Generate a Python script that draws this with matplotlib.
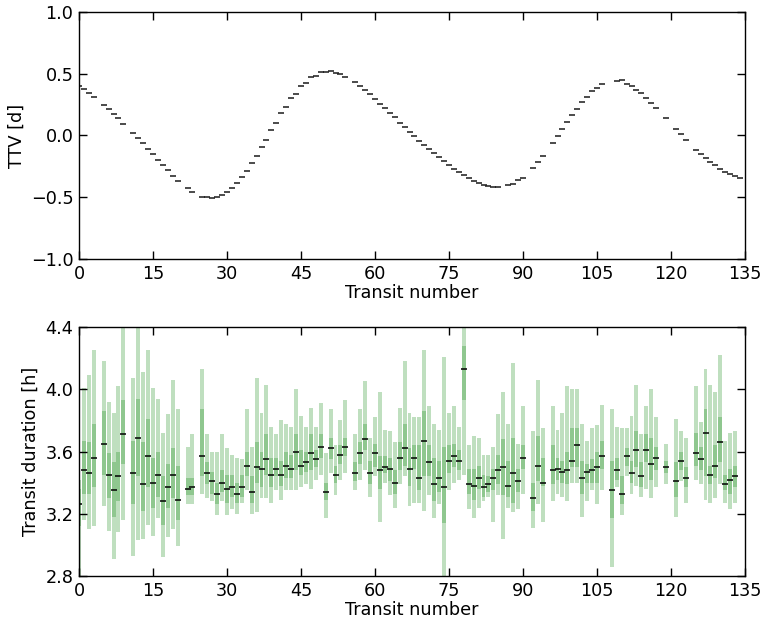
import matplotlib
matplotlib.use("Agg")
import matplotlib.pyplot as plt
import numpy as np

# ---------------- Top panel: TTV ----------------
ttv_n = [0, 1, 2, 3, 5, 6, 7, 8, 9, 11, 12, 13, 14, 15, 16, 17, 18, 19, 20, 22, 23,
         25, 26, 27, 28, 29, 30, 31, 32, 33, 34, 35, 36, 37, 38, 39, 40, 41, 42, 43, 44,
         45, 46, 47, 48, 49, 50, 51, 52, 53, 54, 56, 57, 58, 59, 60, 61, 62, 63, 64, 65,
         66, 67, 68, 69, 70, 71, 72, 73, 74, 75, 76, 77, 78, 79, 80, 81, 82, 83, 84, 85,
         87, 88, 89, 90, 92, 93, 94, 96, 97, 98, 99, 100, 101, 102, 103, 104, 105, 106,
         109, 110, 111, 112, 113, 114, 115, 116, 117, 119, 121, 122, 123, 125, 126, 127,
         128, 129, 130, 131, 132, 133, 134]
ttv_val = [0.400, 0.375, 0.345, 0.312, 0.250, 0.215, 0.177, 0.139, 0.096, 0.024, -0.017,
           -0.065, -0.109, -0.152, -0.195, -0.238, -0.281, -0.325, -0.366, -0.428, -0.460,
           -0.495, -0.500, -0.505, -0.500, -0.485, -0.457, -0.425, -0.384, -0.338, -0.287,
           -0.222, -0.163, -0.093, -0.034, 0.045, 0.101, 0.180, 0.231, 0.300, 0.338,
           0.400, 0.428, 0.472, 0.484, 0.514, 0.512, 0.520, 0.508, 0.497, 0.474,
           0.429, 0.403, 0.365, 0.332, 0.292, 0.257, 0.219, 0.181, 0.146, 0.105,
           0.070, 0.032, -0.003, -0.041, -0.076, -0.108, -0.141, -0.173, -0.206, -0.238,
           -0.268, -0.292, -0.322, -0.343, -0.371, -0.384, -0.400, -0.408, -0.416, -0.416,
           -0.400, -0.389, -0.363, -0.341, -0.262, -0.214, -0.170, -0.060, -0.003, 0.054,
           0.111, 0.167, 0.216, 0.273, 0.308, 0.360, 0.383, 0.416,
           0.440, 0.446, 0.415, 0.404, 0.372, 0.346, 0.305, 0.265, 0.222, 0.138, 0.050,
           0.008, -0.035, -0.116, -0.148, -0.180, -0.213, -0.240, -0.268, -0.295, -0.312,
           -0.329, -0.348]

# ---------------- Bottom panel: transit duration ----------------
dur_n = [0, 1, 2, 3, 5, 6, 7, 8, 9, 11, 12, 13, 14, 15, 16, 17, 18, 19, 20, 22, 23,
         25, 26, 27, 28, 29, 30, 31, 32, 33, 34, 35, 36, 37, 38, 39, 40, 41, 42, 43, 44,
         45, 46, 47, 48, 49, 50, 51, 52, 53, 54, 56, 57, 58, 59, 60, 61, 62, 63, 64, 65,
         66, 67, 68, 69, 70, 71, 72, 73, 74, 75, 76, 77, 78, 79, 80, 81, 82, 83, 84, 85,
         86, 87, 88, 89, 90, 92, 93, 94, 96, 97, 98, 99, 100, 101, 102, 103, 104, 105, 106,
         108, 109, 110, 111, 112, 113, 114, 115, 116, 117, 119, 121, 122, 123, 125, 126,
         127, 128, 129, 130, 131, 132, 133]
dur_med = [3.26, 3.48, 3.46, 3.56, 3.65, 3.45, 3.35, 3.44, 3.71, 3.46, 3.69,
           3.39, 3.57, 3.40, 3.45, 3.28, 3.37, 3.45, 3.29, 3.36, 3.37,
           3.57, 3.46, 3.41, 3.33, 3.40, 3.36, 3.37, 3.33, 3.37, 3.51,
           3.34, 3.50, 3.49, 3.55, 3.45, 3.49, 3.45, 3.51, 3.49, 3.60,
           3.51, 3.53, 3.59, 3.55, 3.63, 3.34, 3.62, 3.45, 3.58, 3.63,
           3.46, 3.59, 3.68, 3.46, 3.59, 3.48, 3.50, 3.49, 3.40, 3.56,
           3.62, 3.49, 3.56, 3.43, 3.67, 3.53, 3.39, 3.43, 3.37, 3.54,
           3.57, 3.54, 4.13, 3.39, 3.38, 3.43, 3.37, 3.39, 3.43, 3.48,
           3.50, 3.38, 3.46, 3.41, 3.56, 3.30, 3.51, 3.40, 3.48, 3.49,
           3.47, 3.48, 3.54, 3.64, 3.43, 3.47, 3.48, 3.50, 3.57,
           3.35, 3.48, 3.33, 3.57, 3.46, 3.61, 3.44, 3.61, 3.52, 3.56,
           3.50, 3.41, 3.54, 3.43, 3.59, 3.55, 3.72, 3.45, 3.51, 3.66,
           3.39, 3.42, 3.44]
dur_dark_lo = [3.12, 3.33, 3.33, 3.37, 3.45, 3.30, 3.18, 3.28, 3.52, 3.26, 3.44,
               3.22, 3.37, 3.24, 3.31, 3.13, 3.24, 3.30, 3.16, 3.32, 3.32,
               3.44, 3.39, 3.33, 3.26, 3.34, 3.27, 3.31, 3.27, 3.31, 3.44,
               3.27, 3.40, 3.37, 3.45, 3.37, 3.44, 3.38, 3.43, 3.43, 3.48,
               3.45, 3.47, 3.48, 3.50, 3.56, 3.29, 3.55, 3.40, 3.52, 3.57,
               3.41, 3.52, 3.61, 3.39, 3.50, 3.36, 3.46, 3.41, 3.33, 3.48,
               3.51, 3.38, 3.49, 3.35, 3.44, 3.44, 3.28, 3.34, 3.14, 3.46,
               3.50, 3.48, 3.93, 3.33, 3.29, 3.36, 3.31, 3.34, 3.35, 3.39,
               3.32, 3.31, 3.27, 3.34, 3.49, 3.22, 3.41, 3.38, 3.39, 3.42,
               3.40, 3.39, 3.50, 3.50, 3.33, 3.40, 3.40, 3.40, 3.49,
               3.17, 3.42, 3.26, 3.51, 3.40, 3.50, 3.37, 3.53, 3.42, 3.48,
               3.46, 3.31, 3.48, 3.37, 3.51, 3.48, 3.44, 3.39, 3.43, 3.53,
               3.35, 3.33, 3.37]
dur_dark_hi = [3.36, 3.67, 3.66, 3.78, 3.86, 3.59, 3.53, 3.60, 3.93, 3.67, 3.94,
               3.66, 3.81, 3.56, 3.60, 3.44, 3.52, 3.62, 3.51, 3.43, 3.43,
               3.87, 3.53, 3.47, 3.40, 3.48, 3.45, 3.45, 3.40, 3.45, 3.60,
               3.44, 3.66, 3.60, 3.71, 3.56, 3.56, 3.54, 3.60, 3.58, 3.71,
               3.61, 3.60, 3.71, 3.61, 3.71, 3.40, 3.69, 3.51, 3.64, 3.69,
               3.53, 3.66, 3.78, 3.54, 3.65, 3.57, 3.57, 3.56, 3.48, 3.66,
               3.78, 3.62, 3.64, 3.64, 3.86, 3.64, 3.56, 3.54, 3.63, 3.64,
               3.65, 3.61, 4.28, 3.49, 3.49, 3.51, 3.45, 3.44, 3.49, 3.58,
               3.68, 3.54, 3.69, 3.49, 3.64, 3.40, 3.70, 3.56, 3.64, 3.56,
               3.54, 3.60, 3.75, 3.75, 3.54, 3.52, 3.55, 3.60, 3.67,
               3.54, 3.56, 3.44, 3.62, 3.54, 3.73, 3.53, 3.71, 3.69, 3.63,
               3.54, 3.53, 3.60, 3.50, 3.72, 3.63, 3.87, 3.51, 3.64, 3.82,
               3.45, 3.49, 3.51]
dur_light_lo = [2.80, 3.16, 3.10, 3.12, 3.25, 3.09, 2.91, 3.08, 3.16, 2.93, 3.03,
                3.04, 3.13, 3.06, 3.17, 2.92, 3.05, 3.10, 2.99, 3.26, 3.26,
                3.33, 3.30, 3.28, 3.19, 3.28, 3.19, 3.23, 3.20, 3.27, 3.35,
                3.20, 3.21, 3.30, 3.30, 3.27, 3.35, 3.29, 3.35, 3.35, 3.35,
                3.37, 3.39, 3.36, 3.42, 3.45, 3.17, 3.46, 3.32, 3.42, 3.46,
                3.35, 3.42, 3.48, 3.31, 3.44, 3.15, 3.40, 3.32, 3.24, 3.39,
                3.44, 3.25, 3.27, 3.27, 3.22, 3.32, 3.17, 3.26, 2.80, 3.35,
                3.40, 3.42, 3.45, 3.23, 3.17, 3.24, 3.28, 3.31, 3.15, 3.32,
                3.04, 3.24, 3.21, 3.23, 3.33, 3.11, 3.26, 3.15, 3.28, 3.33,
                3.31, 3.28, 3.40, 3.40, 3.18, 3.28, 3.35, 3.26, 3.35,
                2.86, 3.37, 3.19, 3.44, 3.33, 3.38, 3.31, 3.36, 3.30, 3.37,
                3.39, 3.18, 3.41, 3.27, 3.42, 3.39, 3.29, 3.27, 3.30, 3.39,
                3.27, 3.23, 3.27]
dur_light_hi = [3.42, 4.01, 4.09, 4.25, 4.18, 3.92, 3.85, 4.02, 4.45, 4.07, 4.45,
                4.11, 4.25, 4.01, 3.94, 3.72, 3.84, 4.06, 3.87, 3.63, 3.71,
                4.13, 3.71, 3.60, 3.60, 3.71, 3.62, 3.58, 3.56, 3.55, 3.87,
                3.63, 4.07, 3.85, 4.03, 3.76, 3.71, 3.80, 3.78, 3.76, 4.00,
                3.83, 3.76, 3.88, 3.76, 3.91, 3.59, 3.87, 3.64, 3.80, 3.93,
                3.71, 3.87, 4.05, 3.69, 3.82, 3.98, 3.74, 3.73, 3.66, 3.88,
                4.18, 3.85, 3.82, 3.82, 4.25, 3.89, 3.78, 3.74, 4.21, 3.85,
                3.89, 3.76, 4.45, 3.64, 3.70, 3.69, 3.58, 3.58, 3.63, 3.84,
                3.98, 3.78, 4.17, 3.65, 3.89, 3.73, 4.06, 3.75, 3.89, 3.74,
                3.85, 4.02, 4.00, 4.00, 3.78, 3.67, 3.75, 3.77, 3.90,
                3.87, 3.76, 3.75, 3.75, 3.83, 4.03, 3.71, 3.89, 4.00, 3.82,
                3.65, 3.81, 3.73, 3.69, 4.02, 3.79, 4.13, 4.03, 3.98, 4.22,
                3.67, 3.72, 3.73]

x_ticks = [0, 15, 30, 45, 60, 75, 90, 105, 120, 135]
ttv_ticks = [-1.0, -0.5, 0.0, 0.5, 1.0]
dur_ticks = [2.8, 3.2, 3.6, 4.0, 4.4]

plt.rcParams['font.family'] = ['DejaVu Sans']
plt.rcParams['font.size'] = 12.7

fig = plt.figure(figsize=(7.64, 6.23), dpi=100)
ax1 = fig.add_axes([0.1034, 0.5843, 0.8717, 0.3965])
ax2 = fig.add_axes([0.1034, 0.0754, 0.8717, 0.3997])

green = '#008000'

# top
ax1.plot(ttv_n, ttv_val, linestyle='none', marker='_', color='#1a1a1a',
         markersize=4.0, markeredgewidth=1.1)
ax1.set_xlim(0, 135)
ax1.set_ylim(-1.0, 1.0)
ax1.set_xticks(x_ticks)
ax1.set_yticks(ttv_ticks)
ax1.set_xlabel('Transit number', labelpad=1)
ax1.set_ylabel('TTV [d]', labelpad=4)

# bottom
dn = np.array(dur_n)
llo = np.array(dur_light_lo); lhi = np.array(dur_light_hi)
dlo = np.array(dur_dark_lo); dhi = np.array(dur_dark_hi)
ax2.bar(dn, lhi - llo, bottom=llo, width=0.8, color=green, alpha=0.25, linewidth=0)
ax2.bar(dn, dhi - dlo, bottom=dlo, width=0.8, color=green, alpha=0.25, linewidth=0)
ax2.plot(dur_n, dur_med, linestyle='none', marker='_', color='black',
         markersize=4.0, markeredgewidth=1.1)
ax2.set_xlim(0, 135)
ax2.set_ylim(2.8, 4.4)
ax2.set_xticks(x_ticks)
ax2.set_yticks(dur_ticks)
ax2.set_xlabel('Transit number', labelpad=1)
ax2.set_ylabel('Transit duration [h]', labelpad=4)

for ax in (ax1, ax2):
    ax.tick_params(direction='in', top=True, right=True, length=6, width=1, pad=4)
    for s in ax.spines.values():
        s.set_linewidth(1.0)

fig.savefig('out.png', dpi=100)
